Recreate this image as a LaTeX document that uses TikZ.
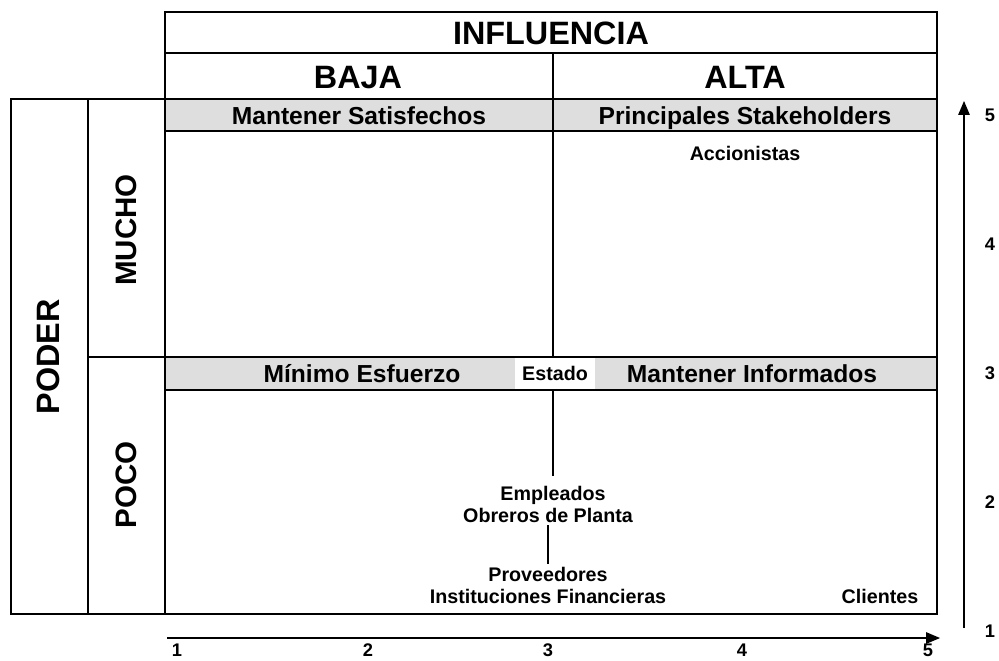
\documentclass[tikz,border=0pt]{standalone}
\usepackage{fontspec}
\setmainfont{Liberation Sans}
\usetikzlibrary{arrows,positioning}

\begin{document}
\begin{tikzpicture}[x=0.025cm,y=-0.025cm,>=triangle 45,line width=2pt,
  head/.style={font=\fontsize{23}{26}\selectfont\bfseries, anchor=base},
  side/.style={font=\fontsize{21}{24}\selectfont\bfseries, rotate=90},
  title/.style={font=\fontsize{17.5}{20}\selectfont\bfseries, anchor=base},
  who/.style={font=\fontsize{14}{16}\selectfont\bfseries, inner sep=1pt, anchor=base},
  num/.style={font=\fontsize{13}{15}\selectfont\bfseries, inner sep=1pt},
  band/.style={fill=black!13},
  axis/.style={line width=1.3pt}]
  \useasboundingbox (0,0) rectangle (999,660);

  % shaded bands
  \fill[band] (165,99) rectangle (937,131);
  \fill[band] (165,357) rectangle (937,390);

  % frame
  \draw (165,12) rectangle (937,99);
  \draw (165,53) -- (937,53);
  \draw (11,99) rectangle (937,614);
  \draw (88,99) -- (88,614);
  \draw (165,99) -- (165,614);
  \draw (165,131) -- (937,131);
  \draw (88,357) -- (937,357);
  \draw (165,390) -- (937,390);

  \node (infl)  [head] at (551,44) {INFLUENCIA};
  \node (baja)  [head] at (358,88) {BAJA};
  \node (alta)  [head] at (745,88) {ALTA};
  \node (poder) [head, anchor=center, rotate=90] at (48,357) {PODER};
  \node (mucho) [side] at (126,230) {MUCHO};
  \node (poco)  [side] at (126,485) {POCO};

  \node (satis)      [title] at (359,124) {Mantener Satisfechos};
  \node (princ)      [title] at (745,124) {Principales Stakeholders};
  \node (minimo)     [title] at (362,382) {Mínimo Esfuerzo};
  \node (informados) [title] at (752,382) {Mantener Informados};
  \node (estado) [who, anchor=center, fill=white, inner xsep=5pt, minimum height=31*0.025cm] at (555,373) {Estado};

  \node (accion)   [who] at (745,160) {Accionistas};
  \node (emple)    [who] at (553,500) {Empleados};
  \node (obreros)  [who] at (548,522) {Obreros de Planta};
  \node (prov)     [who] at (548,581) {Proveedores};
  \node (inst)     [who] at (548,603) {Instituciones Financieras};
  \node (clientes) [who] at (880,603) {Clientes};

  % middle division
  \coordinate (mtop) at (553,53);
  \path (mtop)    edge (553,357)
        (553,390) edge [shorten >=5pt] (emple.north)
        (obreros) edge (prov);

  % axes
  \coordinate (xa) at (167,638);
  \coordinate (xb) at (940,638);
  \coordinate (ya) at (964,628);
  \coordinate (yb) at (964,101);
  \draw[axis,->] (xa) -- (xb);
  \draw[axis,->] (ya) -- (yb);
  \foreach \n/\x in {1/177,2/368,3/548,4/742,5/928}
    \node (x\n) [num] at (\x,650) {\n};
  \foreach \n in {1,...,5}
    \node (y\n) [num] at (990,{115+(5-\n)*129}) {\n};
\end{tikzpicture}
\end{document}
